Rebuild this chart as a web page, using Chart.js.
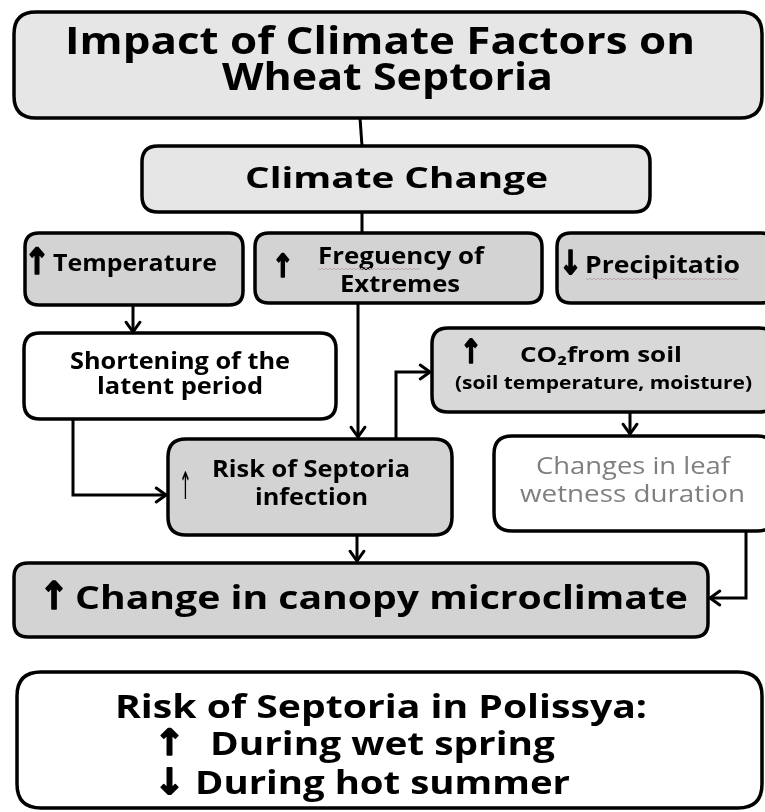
<!DOCTYPE html>
<html>
<head>
<meta charset="utf-8">
<script src="https://cdn.jsdelivr.net/npm/chart.js@4.4.1/dist/chart.umd.min.js"></script>
<style>
  html, body { margin: 0; padding: 0; background: #fff; }
  #wrap { width: 765px; height: 812px; position: relative; }
</style>
</head>
<body>
<div id="wrap"><canvas id="flowChart"></canvas></div>
<script>
// diagram content: node names, their text, and the links between them
const nodes = ['title', 'climate', 'temp', 'freq', 'precip', 'short', 'co2', 'risk', 'leaf', 'canopy', 'polissya'];

const nodeText = [
    ['Impact of Climate Factors on', 'Wheat Septoria'],
    ['Climate Change'],
    ['\u2191', 'Temperature'],
    ['\u2191', 'Freguency of', 'Extremes'],
    ['\u2193', 'Precipitatio'],
    ['Shortening of the', 'latent period'],
    ['\u2191', 'CO\u2082from soil', '(soil temperature, moisture)'],
    ['\u2191', 'Risk of Septoria', 'infection'],
    ['Changes in leaf', 'wetness duration'],
    ['\u2191', 'Change in canopy microclimate'],
    ['Risk of Septoria in Polissya:', '\u2191', 'During wet spring', '\u2193', 'During hot summer']
];

const links = [
    ['title', 'climate'], ['climate', 'freq'], ['temp', 'short'], ['freq', 'risk'],
    ['short', 'risk'], ['risk', 'co2'], ['co2', 'leaf'], ['risk', 'canopy'], ['leaf', 'canopy']
];

// layout (diagram units = page pixels)
const FONT = '"Open Sans", "DejaVu Sans", sans-serif';
const ARROW = '"DejaVu Sans", sans-serif';
const DARK = '#d3d3d3';
const LIGHT = '#e6e6e6';

// text line: [left x, baseline y, font px, weight, colour, stretched width, font]
const layout = {
    title:    { box: [14, 12, 762, 118], fill: LIGHT, r: 22,
                lines: [[65, 54, 37, 'bold', '#000', 630], [222, 90, 37, 'bold', '#000', 331]] },
    climate:  { box: [142, 146, 650, 212], fill: LIGHT, r: 16,
                lines: [[245, 188, 29, 'bold', '#000', 303]] },
    temp:     { box: [25, 233, 243, 305], fill: DARK, r: 14,
                lines: [[24, 274, 36, 'bold', '#000', 26, ARROW], [53, 271, 23, 'bold', '#000', 164]] },
    freq:     { box: [255, 233, 542, 303], fill: DARK, r: 14,
                lines: [[272, 277, 32, 'bold', '#000', 22, ARROW], [318, 264, 23, 'bold', '#000', 166], [340, 292, 23, 'bold', '#000', 120]] },
    precip:   { box: [557, 233, 775, 303], fill: DARK, r: 14,
                lines: [[559, 274, 33, 'bold', '#000', 23, ARROW], [585, 273, 23, 'bold', '#000', 155]] },
    short:    { box: [24, 333, 336, 419], fill: '#fff', r: 16,
                lines: [[70, 369, 24, 'bold', '#000', 220], [97, 394, 24, 'bold', '#000', 166]] },
    co2:      { box: [432, 328, 775, 412], fill: '#d8d8d8', r: 16,
                lines: [[460, 363, 33, 'bold', '#000', 22, ARROW], [520, 362, 22, 'bold', '#000', 162], [455, 389, 17, 'bold', '#000', 297]] },
    risk:     { box: [168, 439, 452, 535], fill: DARK, r: 18,
                lines: [[179, 499, 38, 'normal', '#000', 13, ARROW], [212, 477, 23, 'bold', '#000', 198], [255, 505, 23, 'bold', '#000', 113]] },
    leaf:     { box: [494, 436, 775, 531], fill: '#fff', r: 18,
                lines: [[536, 474, 23, 'normal', '#7f7f7f', 194], [520, 502, 23, 'normal', '#7f7f7f', 225]] },
    canopy:   { box: [14, 563, 708, 637], fill: DARK, r: 14,
                lines: [[39, 609, 38, 'bold', '#000', 30, ARROW], [75, 609, 33, 'bold', '#000', 613]] },
    polissya: { box: [17, 672, 762, 808], fill: '#fff', r: 24,
                lines: [[115, 718, 33, 'bold', '#000', 532], [154, 755, 36, 'bold', '#000', 31, ARROW], [210, 755, 33, 'bold', '#000', 345],
                        [154, 794, 36, 'bold', '#000', 31, ARROW], [195, 794, 33, 'bold', '#000', 375]] }
};

// connector routes, one per link, and whether it ends with an arrowhead
const routes = [
    [[360, 118], [362, 146]],
    [[362, 212], [362, 233]],
    [[133, 305], [133, 332]],
    [[358, 303], [358, 437]],
    [[73, 419], [73, 495], [166, 495]],
    [[396, 439], [396, 372], [430, 372]],
    [[630, 412], [630, 434]],
    [[357, 535], [357, 561]],
    [[746, 531], [746, 598], [710, 598]]
];
const arrowEnds = [false, false, true, true, true, true, true, true, true];

const datasets = links.map((l, i) => ({
    label: l[0] + ' \u2192 ' + l[1],
    data: routes[i].map(p => ({ x: p[0], y: p[1] })),
    showLine: true,
    borderColor: '#000',
    borderWidth: 3,
    pointRadius: 0,
    fill: false,
    tension: 0
}));

function roundBox(c, x0, y0, x1, y1, r) {
    c.beginPath();
    c.moveTo(x0 + r, y0);
    c.lineTo(x1 - r, y0);
    c.quadraticCurveTo(x1, y0, x1, y0 + r);
    c.lineTo(x1, y1 - r);
    c.quadraticCurveTo(x1, y1, x1 - r, y1);
    c.lineTo(x0 + r, y1);
    c.quadraticCurveTo(x0, y1, x0, y1 - r);
    c.lineTo(x0, y0 + r);
    c.quadraticCurveTo(x0, y0, x0 + r, y0);
    c.closePath();
}

const flowPlugin = {
    id: 'flow',
    beforeDatasetsDraw(chart) {
        const c = chart.ctx, sx = chart.scales.x, sy = chart.scales.y;
        nodes.forEach(n => {
            const L = layout[n];
            const x0 = sx.getPixelForValue(L.box[0]), y0 = sy.getPixelForValue(L.box[1]);
            const x1 = sx.getPixelForValue(L.box[2]), y1 = sy.getPixelForValue(L.box[3]);
            c.save();
            roundBox(c, x0, y0, x1, y1, L.r);
            c.fillStyle = L.fill;
            c.fill();
            c.lineWidth = 3.5;
            c.strokeStyle = '#000';
            c.stroke();
            c.restore();
        });
    },
    afterDatasetsDraw(chart) {
        const c = chart.ctx, sx = chart.scales.x, sy = chart.scales.y;
        // arrowheads
        routes.forEach((pts, i) => {
            if (!arrowEnds[i]) return;
            const a = pts[pts.length - 2], b = pts[pts.length - 1];
            const ax = sx.getPixelForValue(a[0]), ay = sy.getPixelForValue(a[1]);
            const bx = sx.getPixelForValue(b[0]), by = sy.getPixelForValue(b[1]);
            const ang = Math.atan2(by - ay, bx - ax);
            const len = 12, spread = 0.62;
            c.save();
            c.strokeStyle = '#000';
            c.lineWidth = 3;
            c.lineCap = 'round';
            c.beginPath();
            c.moveTo(bx - len * Math.cos(ang - spread), by - len * Math.sin(ang - spread));
            c.lineTo(bx, by);
            c.lineTo(bx - len * Math.cos(ang + spread), by - len * Math.sin(ang + spread));
            c.stroke();
            c.restore();
        });
        // texts, stretched sideways like the original picture
        nodes.forEach((n, i) => {
            const L = layout[n];
            nodeText[i].forEach((t, j) => {
                const s = L.lines[j];
                c.save();
                c.font = s[3] + ' ' + s[2] + 'px ' + (s[6] || FONT);
                c.fillStyle = s[4];
                c.textAlign = 'left';
                c.textBaseline = 'alphabetic';
                const w = c.measureText(t).width;
                c.translate(sx.getPixelForValue(s[0]), sy.getPixelForValue(s[1]));
                c.scale(s[5] / w, 1);
                c.fillText(t, 0, 0);
                // the arrow signs are heavier in the original
                if (s[6] && s[3] === 'bold') {
                    c.strokeStyle = s[4];
                    c.lineWidth = 1.6;
                    c.lineJoin = 'round';
                    c.strokeText(t, 0, 0);
                }
                c.restore();
            });
        });
        // spell-check squiggles under the misspelt words
        [[318, 269, 102], [586, 279, 152]].forEach(w => {
            c.save();
            c.strokeStyle = '#b8a8a8';
            c.lineWidth = 1;
            c.beginPath();
            for (let k = 0; k <= w[2]; k += 2) {
                const px = sx.getPixelForValue(w[0] + k), py = sy.getPixelForValue(w[1] + (k % 4 ? 1 : -1));
                k ? c.lineTo(px, py) : c.moveTo(px, py);
            }
            c.stroke();
            c.restore();
        });
    }
};

new Chart(document.getElementById('flowChart'), {
    type: 'scatter',
    data: { datasets: datasets },
    options: {
        responsive: true,
        maintainAspectRatio: false,
        animation: false,
        layout: { padding: 0 },
        plugins: { legend: { display: false }, tooltip: { enabled: false } },
        scales: {
            x: { type: 'linear', min: 0, max: 765, display: false },
            y: { type: 'linear', min: 0, max: 812, reverse: true, display: false }
        }
    },
    plugins: [flowPlugin]
});
</script>
</body>
</html>
